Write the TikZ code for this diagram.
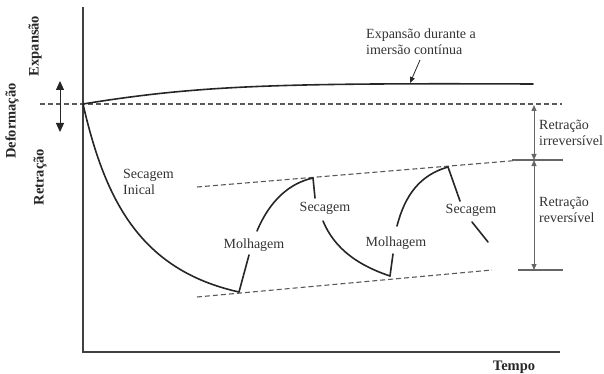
\documentclass[tikz,border=0pt]{standalone}
\usepackage{fontspec}
\setmainfont{Liberation Serif}
\usetikzlibrary{arrows.meta}
\begin{document}
\begin{tikzpicture}[x=1pt,y=-1pt,
  axis/.style={line width=2.6pt,draw=black!75},
  curve/.style={line width=1.6pt,draw=black!85,line cap=round},
  guide/.style={line width=1.1pt,draw=black!65,dash pattern=on 5pt off 3pt},
  tick/.style={line width=1.1pt,draw=black!60},
  dim/.style={line width=1pt,draw=black!60,{Triangle[length=6pt,width=5pt]}-{Triangle[length=6pt,width=5pt]}},
  lbl/.style={font=\fontsize{14}{16}\selectfont,text=black!80,inner sep=0pt,align=left},
  blbl/.style={font=\fontsize{14.5}{16}\selectfont\bfseries,text=black!85,inner sep=0pt}]
\useasboundingbox (0,0) rectangle (604,374);
% axes
\coordinate (O) at (83,352);
\coordinate (ytop) at (83,7);
\coordinate (xend) at (560,352);
\draw[axis] (ytop) -- (O) -- (xend);
% guide lines
\coordinate (z0) at (40,104);
\coordinate (z1) at (562,104);
\draw[guide] (z0) -- (z1);
\coordinate (u0) at (197,187);
\coordinate (u1) at (522,160);
\draw[guide] (u0) -- (u1);
\coordinate (l0) at (197,297);
\coordinate (l1) at (492,270);
\draw[guide] (l0) -- (l1);
\coordinate (ut0) at (512,160);
\coordinate (ut1) at (563,160);
\draw[tick] (ut0) -- (ut1);
\coordinate (lt0) at (518,270);
\coordinate (lt1) at (563,270);
\draw[tick] (lt0) -- (lt1);
% dimension arrows
\coordinate (d0) at (534,105);
\coordinate (d1) at (534,160);
\coordinate (d2) at (534,270);
\draw[dim] (d0) -- (d1);
\draw[dim] (d1) -- (d2);
% left double arrow
\coordinate (a0) at (60,81);
\coordinate (a1) at (60,132);
\draw[line width=1pt,black!85,{Triangle[length=9pt,width=8pt]}-{Triangle[length=9pt,width=8pt]}] (a0) -- (a1);
% expansion curve
\coordinate (s) at (83,104);
\coordinate (e) at (533,84);
\draw[curve] (s) .. controls (200,85) and (280,83) .. (e);
% initial drying
\coordinate (t1) at (239,292);
\draw[curve] (s) .. controls (105,200) and (140,270) .. (t1);
% wetting 1
\coordinate (w1a) at (249,255);
\coordinate (w1b) at (257,231);
\coordinate (p1) at (313,178);
\draw[curve] (t1) -- (w1a);
\draw[curve] (w1b) .. controls (270,200) and (290,183) .. (p1);
% drying 1
\coordinate (d1a) at (315,198);
\coordinate (d1b) at (323,221);
\coordinate (t2) at (390,276);
\draw[curve] (p1) -- (d1a);
\draw[curve] (d1b) .. controls (335,250) and (360,266) .. (t2);
% wetting 2
\coordinate (w2a) at (393,254);
\coordinate (w2b) at (397,226);
\coordinate (p2) at (448,167);
\draw[curve] (t2) -- (w2a);
\draw[curve] (w2b) .. controls (405,195) and (420,175) .. (p2);
% drying 2
\coordinate (d2a) at (460,201);
\coordinate (d2b) at (472,222);
\coordinate (d2c) at (488,242);
\draw[curve] (p2) -- (d2a);
\draw[curve] (d2b) -- (d2c);
% labels
\node[lbl,anchor=west] (lexp) at (366,42) {Expansão durante a\\imersão contínua};
\coordinate (lexpa) at (420,60);
\coordinate (lexpb) at (410,83);
\draw[line width=0.8pt,black!85,-{Triangle[length=6pt,width=5pt]}] (lexpa) -- (lexpb);
\node[lbl,anchor=west] (lsi) at (123,182) {Secagem\\Inical};
\node[lbl] (lm1) at (254,245) {Molhagem};
\node[lbl] (ls1) at (325,208) {Secagem};
\node[lbl] (lm2) at (396,243) {Molhagem};
\node[lbl] (ls2) at (471,210) {Secagem};
\node[lbl,anchor=west] (lri) at (539,133) {Retração\\irreversível};
\node[lbl,anchor=west] (lrr) at (539,210) {Retração\\reversível};
\node[blbl,rotate=90] (lexpan) at (35,46) {Expansão};
\node[blbl,rotate=90] (ldef) at (12,121) {Deformação};
\node[blbl,rotate=90] (lret) at (40,177) {Retração};
\node[blbl] (ltempo) at (514,367) {Tempo};
\end{tikzpicture}
\end{document}
